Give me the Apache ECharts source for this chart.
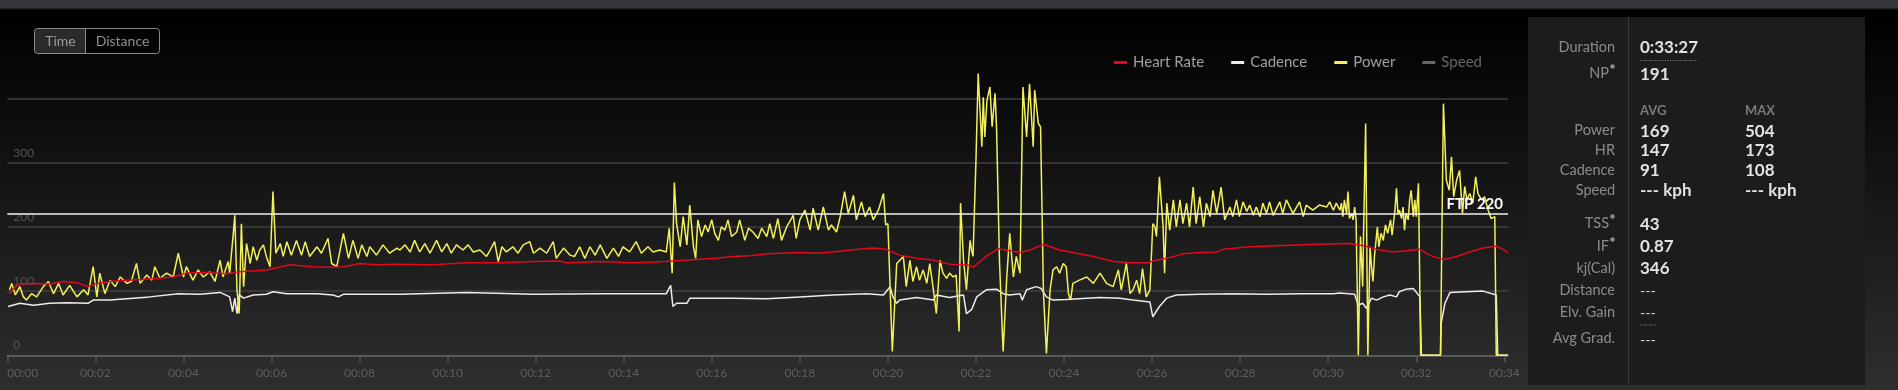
<!DOCTYPE html>
<html>
<head>
<meta charset="utf-8">
<script src="https://cdn.jsdelivr.net/npm/echarts@6/dist/echarts.min.js"></script>
<style>
html,body{margin:0;padding:0;background:#000;}
#c{width:1898px;height:390px;}
</style>
</head>
<body>
<div id="c"></div>
<script>
// ---- data (time in seconds, value) ----
const powerData = [
[3,102],[6,112],[11,94],[17,107],[22,91],[26,86],[33,96],[40,91],[49,107],[56,115],[63,96],[70,112],[76,94],[85,109],[95,91],[104,102],[110,94],[117,138],[122,91],[126,128],[133,96],[140,117],[147,107],[154,122],[163,112],[169,115],[176,143],[181,112],[190,125],[197,117],[201,138],[208,120],[217,128],[226,122],[233,159],[240,122],[244,138],[253,117],[260,133],[267,122],[276,130],[283,115],[290,148],[294,122],[301,146],[303,128],[308,190],[310,218],[313,102],[316,65],[319,205],[322,107],[326,174],[331,143],[335,169],[340,148],[344,164],[349,172],[353,154],[358,138],[362,255],[366,159],[372,174],[376,154],[381,177],[387,156],[394,179],[401,156],[406,177],[412,154],[422,169],[428,159],[437,182],[442,143],[449,138],[458,190],[465,151],[471,179],[478,151],[483,172],[490,154],[494,169],[503,156],[512,172],[521,159],[531,167],
[535,164],[542,172],[549,161],[555,179],[562,161],[569,174],[576,159],[585,179],[592,161],[599,174],[605,159],[612,172],[621,164],[628,172],[635,161],[644,164],[653,154],[658,164],[664,177],[669,146],[674,169],[680,161],[689,169],[696,159],[703,172],[712,177],[717,159],[726,167],[735,159],[744,177],[748,151],[758,167],[767,156],[773,154],[780,169],[787,151],[794,169],[801,156],[808,172],[817,151],[826,167],[833,154],[839,169],[848,161],[857,177],[864,159],[873,169],[880,161],[889,164],[898,161],[902,198],[906,128],[909,269],[912,205],[917,169],[921,216],[926,172],[930,234],[935,169],[938,151],[941,211],[946,185],[951,203],[955,192],[960,211],[964,190],[969,179],[973,200],[978,195],[982,211],[987,185],[994,192],[998,211],[1005,179],[1010,198],[1016,192],[1023,182],[1028,198],[1035,185],[1039,205],[1044,182],[1050,213],[1055,179],[1062,200],[1071,218],[1075,182],[1080,211],[1087,226],[1094,195],[1098,229],[1105,195],[1112,231],[1119,195],[1123,203],[1130,192],[1135,216],[1141,255],[1146,221],[1153,249],[1157,211],[1164,239],[1169,216],[1175,231],[1180,211],[1187,226],[1194,252],[1197,203],[1200,205],[1206,6],[1212,143],
[1221,154],[1225,107],[1230,148],[1234,115],[1239,138],[1243,117],[1248,133],[1253,112],[1257,143],[1262,102],[1266,65],[1271,148],[1275,128],[1280,120],[1284,128],[1289,122],[1293,125],[1297,37],[1299,237],[1303,148],[1307,102],[1312,179],[1314,164],[1316,154],[1320,304],[1323,439],[1325,439],[1328,325],[1330,402],[1332,340],[1335,397],[1339,418],[1342,356],[1346,408],[1348,356],[1352,148],[1357,6],[1362,122],[1366,190],[1371,122],[1375,154],[1380,128],[1384,418],[1389,340],[1393,423],[1398,325],[1400,413],[1405,361],[1408,356],[1412,96],[1416,3],[1421,102],[1425,133],[1430,138],[1434,128],[1439,143],[1443,138],[1446,96],[1449,86],[1452,112],[1461,117],[1471,122],[1480,112],[1489,128],[1498,112],[1507,107],[1514,133],[1518,102],[1525,143],[1530,96],[1534,102],[1539,117],[1543,96],[1547,135],[1552,91],[1557,102],[1561,205],[1564,200],[1566,185],[1570,278],[1575,200],[1577,128],[1580,237],[1584,195],[1589,242],[1593,200],[1598,242],[1602,205],[1607,237],[1611,200],[1616,262],[1620,205],[1625,247],[1630,200],[1634,237],[1639,216],[1643,257],[1648,221],[1652,247],[1654,262],[1659,211],[1666,231],[1670,216],[1675,242],[1679,216],[1684,239],[1689,224],[1693,234],[1698,218],[1702,231],[1707,216],[1711,237],[1716,221],[1720,239],[1725,218],[1734,239],[1738,221],[1743,242],[1752,221],[1761,239],[1766,216],[1770,234],[1779,226],[1788,234],[1798,231],[1802,239],[1807,226],[1811,237],
[1816,226],[1818,237],[1820,216],[1822,242],[1825,221],[1827,255],[1829,213],[1832,221],[1834,211],[1836,231],[1838,211],[1841,0],[1844,185],[1847,107],[1848,179],[1851,361],[1854,0],[1857,169],[1859,138],[1861,115],[1863,154],[1867,200],[1869,169],[1872,190],[1875,179],[1878,203],[1881,190],[1885,211],[1887,187],[1891,226],[1893,260],[1895,221],[1897,226],[1900,213],[1902,231],[1904,195],[1906,221],[1909,211],[1911,242],[1913,257],[1916,216],[1918,242],[1920,216],[1923,268],[1926,0],
[1953,0],[1957,392],[1961,273],[1965,257],[1968,309],[1971,247],[1975,273],[1979,288],[1983,221],[1986,263],[1989,242],[1993,252],[1997,237],[2001,278],[2004,252],[2009,242],[2013,247],[2018,226],[2022,213],[2027,216],[2029,0],[2045,0]
];
const heartRateData = [
[3,96],[11,107],[17,111],[36,112],[58,111],[76,115],[95,113],[110,107],[122,112],[140,115],[163,117],[181,118],[204,120],[226,122],[244,128],[272,129],[299,127],[317,130],[353,133],[385,141],[417,138],[435,137],[458,138],[481,143],[503,141],[531,142],[580,141],[626,144],[671,144],[717,146],[753,147],[762,144],[808,146],[853,144],[898,146],[921,148],[966,151],[989,154],[1012,155],[1035,158],[1057,159],[1080,160],[1103,159],[1125,161],[1148,164],[1180,167],[1198,165],[1216,156],[1239,151],[1262,148],[1284,142],[1307,141],[1317,138],[1334,154],[1350,166],[1366,163],[1380,160],[1396,165],[1412,173],[1434,164],[1457,159],[1480,154],[1507,146],[1534,144],[1555,144],[1561,147],[1580,151],[1602,158],[1625,160],[1648,161],[1657,165],[1693,169],[1738,171],[1784,173],[1829,174],[1852,170],[1866,165],[1888,161],[1907,163],[1925,165],[1938,156],[1957,149],[1975,154],[1993,161],[2011,167],[2029,170],[2038,165],[2045,160]
];
const cadenceData = [
[1,76],[17,81],[36,78],[58,81],[81,82],[110,81],[117,86],[140,86],[172,89],[194,91],[233,96],[263,95],[290,98],[303,91],[307,68],[310,89],[313,65],[316,94],[322,89],[335,94],[353,95],[362,99],[381,96],[422,96],[444,94],[451,91],[458,95],[490,95],[535,95],[626,98],[717,95],[808,96],[898,96],[904,109],[907,76],[912,81],[926,81],[930,89],[939,89],[989,89],[1035,88],[1080,91],[1125,94],[1171,96],[1194,94],[1203,107],[1207,91],[1212,81],[1216,86],[1239,90],[1262,86],[1266,94],[1284,90],[1303,94],[1307,65],[1314,71],[1321,91],[1334,102],[1348,103],[1357,96],[1366,94],[1380,96],[1383,86],[1389,102],[1402,107],[1409,104],[1416,91],[1425,86],[1443,87],[1489,90],[1516,89],[1534,86],[1557,83],[1561,60],[1570,76],[1580,89],[1593,94],[1625,95],[1670,96],[1716,95],[1761,96],[1807,96],[1816,97],[1836,95],[1841,78],[1847,81],[1852,73],[1859,89],[1866,86],[1875,91],[1884,94],[1893,91],[1897,99],[1906,103],[1916,104],[1925,91],[1927,0],[1953,0],[1954,50],[1959,81],[1966,98],[1988,99],[2011,100],[2029,94],[2031,0],[2045,0]
];
const speedData = [];
const xTickSeconds = [0,120,240,360,480,600,720,840,960,1080,1200,1320,1440,1560,1680,1800,1920,2040];
const yTickValues = [0,100,200,300,400];
const yLabelHidden = [400];
const ftpValue = 220;
const seriesNames = ['Heart Rate','Cadence','Power','Speed'];
const toggleLabels = ['Time','Distance'];

const statRows = ['Duration','NP','Power','HR','Cadence','Speed','TSS','IF','kj(Cal)','Distance','Elv. Gain','Avg Grad.'];
const durationText = '0:33:27';
const npValue = '191';
const avgValues = ['169','147','91','--- kph'];
const maxValues = ['504','173','108','--- kph'];
const tssValue = '43';
const ifValue = '0.87';
const kjValue = '346';
const distanceValue = '---';
const elvGainValue = '---';
const avgGradValue = '---';

// ---- chart ----
const FONT = 'Lato';
const chart = echarts.init(document.getElementById('c'), null, {renderer:'canvas'});

function pad2(n){ return (n<10?'0':'')+n; }

const labelX = 1615, valX = 1640, maxX = 1745;
const rowY = {Duration:47,NP:73,Power:130,HR:150.5,Cadence:170,Speed:190,TSS:223,IF:246,'kj(Cal)':268.5,Distance:290,'Elv. Gain':312,'Avg Grad.':338};
const supRows = ['NP','TSS','IF'];

const graphics = [];
// top bar
graphics.push({type:'rect', shape:{x:0,y:0,width:1898,height:8}, style:{fill:'#34363a'}, z:0});
graphics.push({type:'rect', shape:{x:0,y:8,width:1898,height:1.5}, style:{fill:'#1d1e21'}, z:0});
// panel
graphics.push({type:'rect', shape:{x:1528,y:17,width:337,height:368}, style:{fill:'#1c1c1c'}, z:0});
graphics.push({type:'line', shape:{x1:1628.5,y1:17,x2:1628.5,y2:385}, style:{stroke:'#3b3b3b',lineWidth:1}, z:1});
statRows.forEach(function(r){
  const sup = supRows.indexOf(r) >= 0;
  graphics.push({type:'text', z:2, style:{text:r, x: sup ? labelX-6 : labelX, y:rowY[r], align:'right', verticalAlign:'middle', fill:'#8c8c8c', fontSize:14.5, fontFamily:FONT}});
  if (sup) graphics.push({type:'circle', z:2, shape:{cx:labelX-2.5, cy:rowY[r]-6.5, r:2.3}, style:{fill:'#8c8c8c'}});
});
function val(t, x, y, opts){
  opts = opts || {};
  graphics.push({type:'text', z:2, style:{text:t, x:x, y:y, align:'left', verticalAlign:'middle', fill:opts.fill||'#e2e2e2', fontSize:opts.size||17, fontWeight:opts.weight||'bold', fontFamily:FONT}});
}
val(durationText, valX, 48);
graphics.push({type:'line', z:2, shape:{x1:valX,y1:60.5,x2:valX+58,y2:60.5}, style:{stroke:'#8a8a8a',lineWidth:1,lineDash:[1,1.5]}});
val(npValue, valX, 75);
val('AVG', valX, 111, {fill:'#7a7a7a', size:13});
val('MAX', maxX, 111, {fill:'#7a7a7a', size:13});
const avgRowsY = [131.5,151,171,191];
avgValues.forEach(function(v,i){ val(v, valX, avgRowsY[i]); });
maxValues.forEach(function(v,i){ val(v, maxX, avgRowsY[i]); });
val(tssValue, valX, 225);
val(ifValue, valX, 247);
val(kjValue, valX, 269);
val(distanceValue, valX, 291.5, {weight:'normal', size:14, fill:'#d8d8d8'});
val(elvGainValue, valX, 313.5, {weight:'normal', size:14, fill:'#d8d8d8'});
graphics.push({type:'line', z:2, shape:{x1:valX,y1:325,x2:valX+16,y2:325}, style:{stroke:'#8a8a8a',lineWidth:1,lineDash:[1,1.5]}});
val(avgGradValue, valX, 340, {weight:'normal', size:14, fill:'#d8d8d8'});

// Time / Distance toggle
graphics.push({type:'rect', z:2, shape:{x:35,y:28.5,width:51,height:25,r:[3,0,0,3]}, style:{fill:'#2a2a2a'}});
graphics.push({type:'rect', z:3, shape:{x:34.5,y:28.5,width:125,height:25,r:3}, style:{fill:'none',stroke:'#8a8a8a',lineWidth:1}});
graphics.push({type:'line', z:3, shape:{x1:85.5,y1:28.5,x2:85.5,y2:53.5}, style:{stroke:'#8a8a8a',lineWidth:1}});
graphics.push({type:'text', z:4, style:{text:toggleLabels[0], x:60.5, y:41.5, align:'center', verticalAlign:'middle', fill:'#9a9a9a', fontSize:14, fontFamily:FONT}});
graphics.push({type:'text', z:4, style:{text:toggleLabels[1], x:122.5, y:41.5, align:'center', verticalAlign:'middle', fill:'#8e8e8e', fontSize:14, fontFamily:FONT}});

const option = {
  animation:false,
  backgroundColor:{type:'linear',x:0,y:0,x2:0,y2:1,colorStops:[{offset:0,color:'#000000'},{offset:0.03,color:'#000000'},{offset:1,color:'#2e2e2e'}]},
  textStyle:{fontFamily:FONT},
  graphic:graphics,
  legend:{
    left:1109, top:50, icon:'rect', itemWidth:13, itemHeight:3, itemGap:27,
    textStyle:{color:'#a0a0a0', fontSize:15, fontFamily:FONT, padding:[0,0,0,1]},
    data:[{name:seriesNames[0]},{name:seriesNames[1]},{name:seriesNames[2]},{name:seriesNames[3], textStyle:{color:'#666666'}}]
  },
  grid:{left:7.3, right:390, top:98.5, bottom:34.7, containLabel:false},
  xAxis:{
    type:'value', min:0, max:2045,
    axisLine:{show:true, lineStyle:{color:'#5a5a5a', width:2}},
    axisTick:{show:true, length:7, customValues:xTickSeconds, lineStyle:{color:'#5a5a5a', width:1.5}},
    axisLabel:{customValues:xTickSeconds, margin:12, color:'#5f5f5f', fontSize:12, fontFamily:FONT, alignMinLabel:'left',
      formatter:function(v){ return '00:' + pad2(Math.round(v/60)); }},
    splitLine:{show:false}
  },
  yAxis:{
    type:'value', min:0, max:400, interval:100,
    axisLine:{show:false}, axisTick:{show:false},
    axisLabel:{inside:true, margin:6, color:'#555555', fontSize:12, fontFamily:FONT, verticalAlign:'bottom', padding:[0,0,4,0],
      formatter:function(v){ return yLabelHidden.indexOf(v)>=0 ? '' : String(v); }},
    splitLine:{show:true, lineStyle:{color:'#414141', width:1.5}}
  },
  series:[
    {name:seriesNames[1], type:'line', data:cadenceData, color:'#ececec', showSymbol:false, clip:false, lineStyle:{width:1.5, color:'#ececec'}, z:2},
    {name:seriesNames[2], type:'line', data:powerData, color:'#f2f15a', showSymbol:false, clip:false, lineStyle:{width:1.5, color:'#f2f15a'}, z:3,
      markLine:{silent:true, symbol:'none', lineStyle:{color:'#f2f2f2', width:1.5, type:'solid'},
        label:{show:true, position:'insideEndTop', formatter:'FTP ' + ftpValue, color:'#ffffff', fontWeight:'bold', fontSize:15, fontFamily:FONT, distance:[5,2]},
        data:[{yAxis:ftpValue}]}},
    {name:seriesNames[0], type:'line', data:heartRateData, color:'#e3061f', showSymbol:false, clip:false, lineStyle:{width:1.5, color:'#e3061f'}, z:4},
    {name:seriesNames[3], type:'line', data:speedData, color:'#666666', showSymbol:false, lineStyle:{width:1.5, color:'#666666'}}
  ]
};
chart.setOption(option);
</script>
</body>
</html>
